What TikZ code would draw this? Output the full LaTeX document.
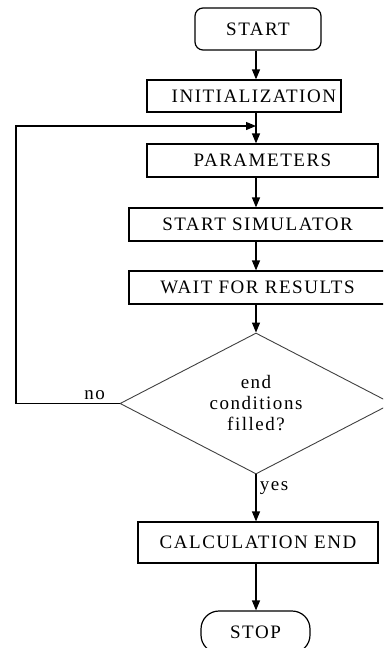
\documentclass[tikz,border=0pt]{standalone}
\usepackage{fontspec}
\setmainfont{Liberation Serif}[LetterSpace=8]
\usetikzlibrary{arrows.meta,positioning,shapes.geometric}

\tikzset{
  txt/.style={font=\fontsize{19}{21}\selectfont},
  box/.style={draw,line width=1.2pt,inner sep=0pt,txt},
  term/.style={box,rounded corners=8pt},
  decision/.style={diamond,draw=black!75,line width=0.9pt,aspect=1.93,
    minimum width=272pt,minimum height=141pt,inner sep=0pt,align=center,txt},
}

\begin{document}
\begin{tikzpicture}[x=1pt,y=-1pt,>={Triangle[length=10pt,width=8pt]}]
  \useasboundingbox (0,0) rectangle (383,648);
  \clip (0,0) rectangle (383,648);
  \coordinate (axis) at (256,0);
  \node (start) [term,minimum width=126pt,minimum height=42pt] at (258,29) {START};
  \node (init) [box,text width=184pt,inner xsep=5pt,align=right,minimum height=32pt] at (244,96) {INITIALIZATION};
  \node (param) [box,minimum width=231pt,minimum height=33pt] at (262.5,160.5) {PARAMETERS};
  \node (sim) [box,minimum width=257pt,minimum height=33pt] at (257.5,224.5) {START SIMULATOR};
  \node (wait) [box,minimum width=257pt,minimum height=33pt] at (257.5,287.5) {WAIT FOR RESULTS};
  \node (cond) [decision] at (256,403.5) {end\\conditions\\filled?};
  \node (calc) [box,minimum width=240pt,minimum height=41pt] at (258,542.5) {CALCULATION END};
  \node (stop) [term,rounded corners=18pt,minimum width=109pt,minimum height=42pt] at (255.5,632) {STOP};
  \coordinate (join) at (256,126);
  \coordinate (back) at (16,403.5);
  \path[->,line width=1.2pt]
    (start.south -| axis) edge (init.north -| axis)
    (init.south -| axis) edge (param.north -| axis)
    (param.south -| axis) edge (sim.north -| axis)
    (sim.south -| axis) edge (wait.north -| axis)
    (wait.south -| axis) edge (cond.north)
    (cond.south) edge node[right,pos=0.3,txt] {yes} (calc.north -| axis)
    (calc.south -| axis) edge (stop.north -| axis);
  \draw[->,line width=1.2pt] (cond.west) -- node[above,pos=0.24,txt] {no} (back) |- (join);
\end{tikzpicture}
\end{document}
